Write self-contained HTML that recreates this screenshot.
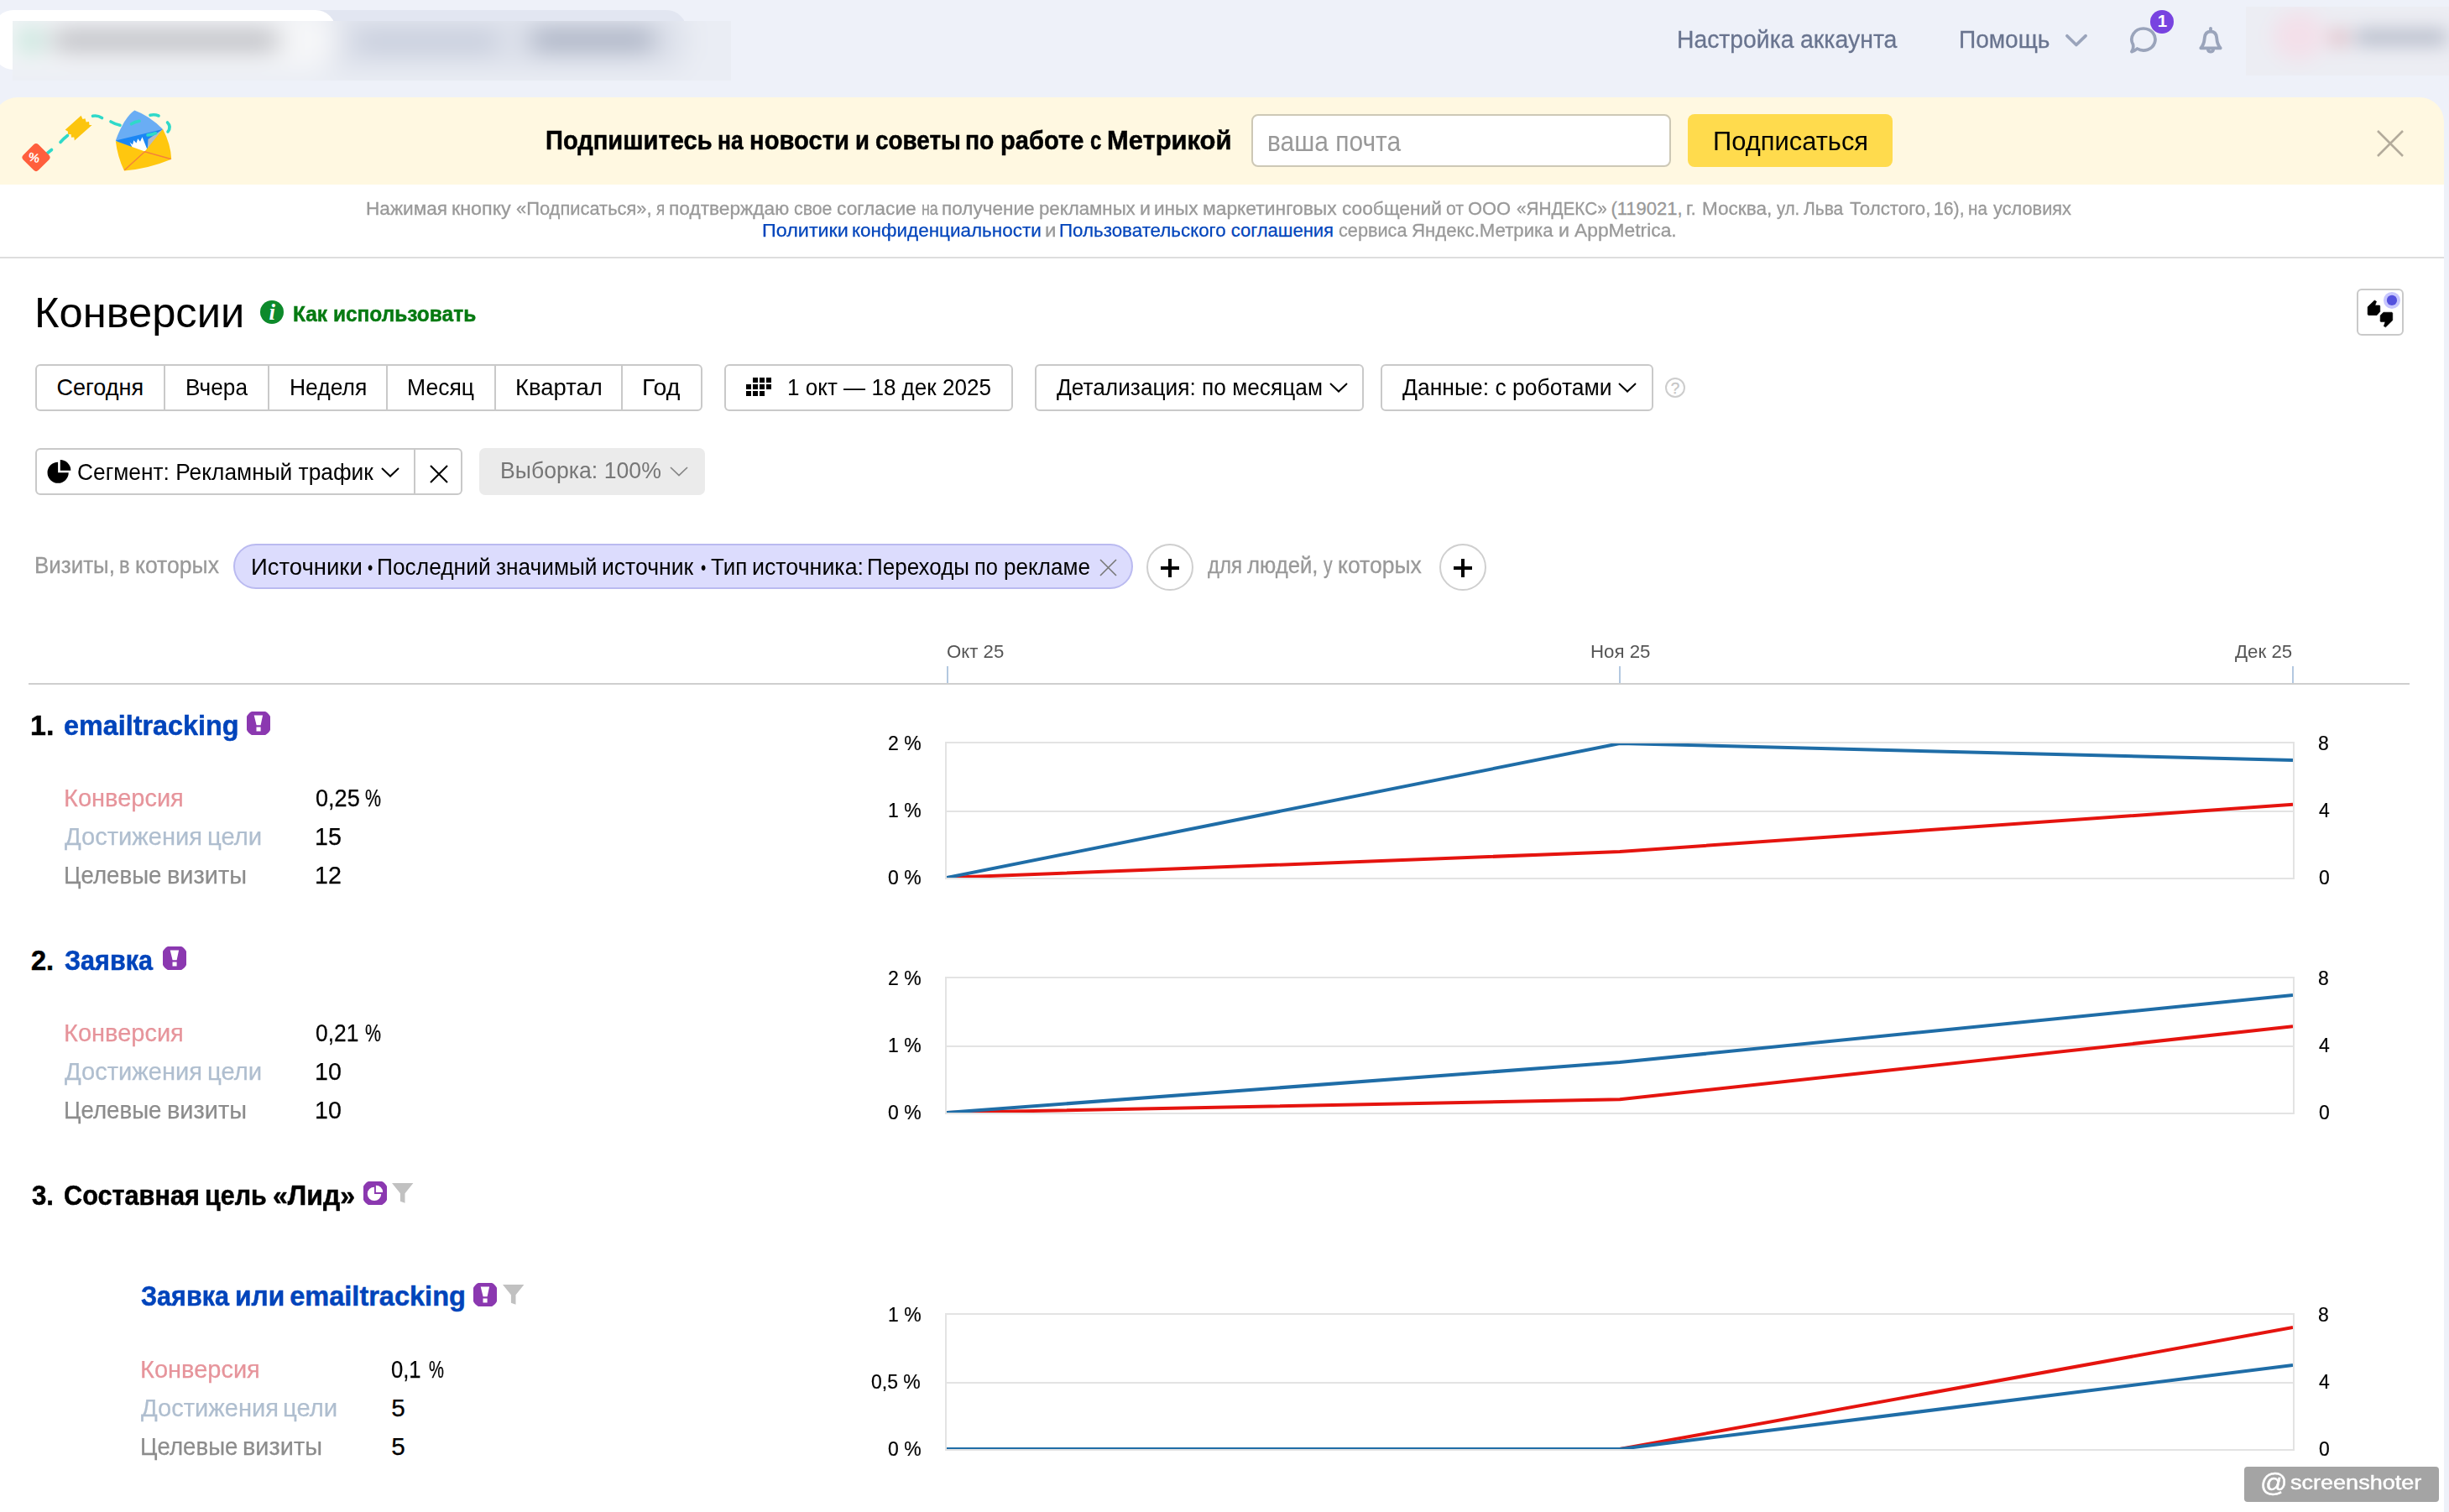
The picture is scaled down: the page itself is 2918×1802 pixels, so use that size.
<!DOCTYPE html>
<html lang="ru">
<head>
<meta charset="utf-8">
<title>Конверсии — Яндекс Метрика</title>
<style>
*{box-sizing:border-box;margin:0;padding:0}
html,body{width:2918px;height:1802px;overflow:hidden}
@media (max-width:2000px){html{zoom:.5}}
body{position:relative;background:#eef1f9;font-family:"Liberation Sans",sans-serif;color:#000}
.abs{position:absolute}
svg{position:absolute;overflow:visible}
.t{position:absolute;white-space:nowrap;line-height:1;transform-origin:0 0}
/* header */
#tab1{left:-8px;top:12px;width:408px;height:71px;background:#fff;border-radius:24px}
#tab2{left:376px;top:12px;width:442px;height:71px;background:#e2e6f1;border-radius:0 24px 24px 0;z-index:-1}
.blob{position:absolute;border-radius:14px;filter:blur(8px)}
.hdr{color:#69748f;-webkit-text-stroke:.3px #69748f}
/* banner */
#banner{left:-8px;top:116px;width:2920px;height:104px;background:#fff8e1;border-radius:29px 29px 0 0}
#page{left:0;top:220px;width:2912px;height:1582px;background:#fff}
#binput{left:1491px;top:136px;width:500px;height:63px;background:#fff;border:2px solid #cdc8b6;border-radius:8px}
#bbtn{left:2011px;top:136px;width:244px;height:63px;background:#ffdb4d;border-radius:8px}
.btn{position:absolute;background:#fff;border:2px solid #c9c9c9;border-radius:6px}
.vd{position:absolute;width:2px;background:#c9c9c9}
.g{color:#999;-webkit-text-stroke:.3px #999}
.hr{position:absolute;height:2px}
.lnk{color:#0044bb}
.dot{font-size:20px;margin:0 8.5px}
.hv{-webkit-text-stroke:.5px currentColor}
.rv{-webkit-text-stroke:.25px currentColor}
.c1{color:#e6949b}.c2{color:#afbecf}.c3{color:#8c8c8c}
.axl{color:#555}
.ax{-webkit-text-stroke:.2px #000}
.plus{position:absolute;width:56px;height:56px;border:2px solid #cfcfcf;border-radius:50%;background:#fff}
.plus:before,.plus:after{content:"";position:absolute;background:#000}
.plus:before{left:15px;top:25px;width:22px;height:4px}
.plus:after{left:24px;top:16px;width:4px;height:22px}
</style>
</head>
<body>
<!-- header tabs (blurred in source) -->
<div id="tab2" class="abs"></div>
<div id="tab1" class="abs"></div>
<div class="abs" style="left:15px;top:25px;width:856px;height:71px;overflow:hidden">
 <div class="abs" style="left:-60px;top:-60px;width:976px;height:191px;background:#eaedf4;filter:blur(15px)">
  <div class="abs" style="left:421px;top:47px;width:442px;height:71px;background:#dde1eb;border-radius:0 24px 24px 0"></div>
  <div class="abs" style="left:37px;top:47px;width:408px;height:71px;background:#f5f6f8;border-radius:24px"></div>
  <div class="abs" style="left:68px;top:71px;width:26px;height:24px;border-radius:6px;background:#a9dccb"></div>
  <div class="abs" style="left:108px;top:74px;width:268px;height:18px;border-radius:4px;background:#a3a4ab"></div>
  <div class="abs" style="left:470px;top:78px;width:168px;height:13px;border-radius:4px;background:#b4bccf"></div>
  <div class="abs" style="left:678px;top:74px;width:146px;height:17px;border-radius:4px;background:#9099ae"></div>
 </div>
</div>
<div class="abs" style="left:2676px;top:8px;width:242px;height:82px;overflow:hidden">
 <div class="abs" style="left:-60px;top:-60px;width:362px;height:202px;background:#ecedf3;filter:blur(11px)">
  <div class="abs" style="left:92px;top:66px;width:62px;height:58px;border-radius:50%;background:#f3e0ea"></div>
  <div class="abs" style="left:160px;top:86px;width:22px;height:22px;border-radius:50%;background:#dfb9c2"></div>
  <div class="abs" style="left:190px;top:88px;width:110px;height:17px;border-radius:4px;background:#b0b6c5"></div>
 </div>
</div>

<!-- header icons -->
<svg style="left:2440px;top:0" width="240" height="100" viewBox="2440 0 240 100">
<g fill="none" stroke="#9aa4bb" stroke-linecap="round" stroke-linejoin="round">
<path d="M2462.900 42.700 L2473.900 53.500 L2485.100 42.700" stroke-width="3.700"/>
<path d="M2554 34 a14 13 0 1 1 -7.500 24 q-2.800 2.600 -6.600 3.600 q2.600 -3.600 1.600 -8.600 a14 13 0 0 1 12.500 -19 z" stroke-width="3.700"/>
<path d="M2634 33.800 V36.500" stroke-width="3.800"/>
<path d="M2622.300 57.300 C2626.300 53 2626.500 48.500 2626.800 45 C2627.200 39.800 2630 37.600 2634 37.600 C2638 37.600 2640.800 39.800 2641.200 45 C2641.500 48.500 2641.700 53 2645.700 57.300 Z" stroke-width="3.800"/>
<path d="M2630.800 59.500 a3.400 3.200 0 0 0 6.400 0" stroke-width="3.600"/>
</g>
<circle cx="2576" cy="26" r="14" fill="#7843e0"/>
</svg>

<!-- banner -->
<div id="banner" class="abs"></div>
<div id="page" class="abs"></div>
<div id="binput" class="abs"></div>
<div id="bbtn" class="abs"></div>
<svg style="left:2830px;top:153px" width="36" height="36" viewBox="0 0 36 36"><path d="M3 3 L33 33 M33 3 L3 33" stroke="#b3ab9b" stroke-width="2.6" fill="none"/></svg>
<svg style="left:0;top:116px" width="260" height="104" viewBox="0 116 260 104">
<!-- dashed trail -->
<g fill="none" stroke="#2fd9c9" stroke-width="3.6" stroke-linecap="round">
<path d="M56.500 182.500 L61.500 178.500"/><path d="M72 169.500 Q76 165 80.500 161.500"/>
<path d="M110.500 138.300 Q116 137 121.500 140.500"/><path d="M132 145 Q137 148 143 149.300"/>
<path d="M179 137.300 Q184 136 189 138"/><path d="M199.500 146 Q204.500 151 200 157"/>
</g>
<!-- ticket -->
<path d="M77.600 154.700 L96.600 137.800 L98.500 142 L101.500 141.300 L102.600 145.500 L106 145 L106.500 149 L109.600 149 L88.800 167.400 L88.300 163.500 L85 163.800 L84.600 160 L81.200 160.300 L80.800 156.500 Z" fill="#fcc50e"/>
<!-- tag -->
<rect x="30.200" y="174.800" width="25.600" height="25.600" rx="4" transform="rotate(45 43 187.600)" fill="#ff5f3d"/>
<!-- envelope -->
<path d="M137.800 167.400 Q148 140 160.300 131.600 Q178 138 194 154.100 L172.500 180.600 Z" fill="#6aadf4"/>
<path d="M137.800 167.400 L194 154.100 L175.600 180 L150 176 Z" fill="#1b86f4"/>
<path d="M194 154.100 L176.500 166 L175.600 180 Z" fill="#b5bbc6"/>
<path d="M154.600 169.400 L158 172.500 L159.300 167.300 L162.500 170.600 L164.200 165.300 L167 168.800 L169.500 163.300 L175.600 178.600 L172 181.500 L158.500 177.500 Z" fill="#fff"/>
<path d="M137.800 168 L172.500 180.600 L194 153.800 Q203.500 172 204.200 189.800 Q176 201.500 148 203.500 Q140 187 137.800 168 Z" fill="#ffc70f"/>
<path d="M148.300 202.800 L172.500 180.800 L203.500 189.500" fill="none" stroke="#f4813b" stroke-width="1.300"/>
<g fill="none" stroke="#2fd9c9" stroke-width="3.600" stroke-linecap="round"><path d="M156.500 147.800 Q161 145 166 144.300"/><path d="M176 161 Q181 160.500 185.500 158.800"/></g>
</svg>
<div class="t" style="left:33.500px;top:179.500px;font-size:15px;font-weight:bold;color:#fff;transform:rotate(12deg);transform-origin:50% 50%">%</div>

<div class="hr" style="left:0;top:306px;width:2912px;background:#dedede"></div>

<!-- title row -->
<div class="abs" style="left:310px;top:358px;width:28px;height:28px;border-radius:50%;background:#0d8a2b"></div>
<div class="t" style="left:320.500px;top:358.800px;font-family:'Liberation Serif',serif;font-style:italic;font-weight:bold;font-size:27px;color:#fff">i</div>
<div class="btn" style="left:2808px;top:344px;width:56px;height:56px;border-radius:6px"></div>
<svg style="left:2796px;top:332px" width="80" height="80" viewBox="0 0 80 80">
<circle cx="53.970" cy="25.900" r="10" fill="#c7c6fd"/><circle cx="53.970" cy="25.900" r="6.100" fill="#5451de"/>
<path d="M25.130 33.860 L33.230 26.030 L35.560 27.250 L33.860 32.010 L39.420 32.010 L39.790 33.070 L39.790 39.420 L35.980 43.650 L25.930 43.650 L25.130 42.590 Z" fill="#000" stroke="#000" stroke-width=".6" stroke-linejoin="round"/>
<path d="M40.210 43.920 L43.920 40.210 L53.970 40.210 L54.760 41.270 L54.760 49.740 L46.560 57.830 L44.340 56.720 L46.030 51.590 L40.740 51.590 L40.110 50.790 Z" fill="#000" stroke="#000" stroke-width=".6" stroke-linejoin="round"/>
</svg>

<!-- period buttons -->
<div class="btn" style="left:42px;top:434px;width:795px;height:56px"></div>
<div class="vd" style="left:195px;top:434px;height:56px"></div>
<div class="vd" style="left:319px;top:434px;height:56px"></div>
<div class="vd" style="left:460px;top:434px;height:56px"></div>
<div class="vd" style="left:589px;top:434px;height:56px"></div>
<div class="vd" style="left:740px;top:434px;height:56px"></div>
<div class="btn" style="left:863px;top:434px;width:344px;height:56px"></div>
<div class="btn" style="left:1233px;top:434px;width:392px;height:56px"></div>
<div class="btn" style="left:1645px;top:434px;width:325px;height:56px"></div>
<!-- calendar icon -->
<svg style="left:889px;top:450px" width="31" height="23" viewBox="0 0 31 23" fill="#000"><rect x="8" y="0" width="6" height="6"/><rect x="16" y="0" width="6" height="6"/><rect x="24" y="0" width="6" height="6"/><rect x="0" y="8" width="6" height="6"/><rect x="8" y="8" width="6" height="6"/><rect x="16" y="8" width="6" height="6"/><rect x="24" y="8" width="6" height="6"/><rect x="0" y="16" width="6" height="6"/><rect x="8" y="16" width="6" height="6"/><rect x="16" y="16" width="6" height="6"/></svg>
<svg style="left:1582.500px;top:453.700px" width="24" height="16" viewBox="0 0 24 16"><path d="M2 3 L12 12.500 L22 3" fill="none" stroke="#000" stroke-width="2"/></svg>
<svg style="left:1926.800px;top:453.700px" width="24" height="16" viewBox="0 0 24 16"><path d="M2 3 L12 12.500 L22 3" fill="none" stroke="#000" stroke-width="2"/></svg>
<div class="abs" style="left:1984px;top:449.800px;width:24px;height:24px;border-radius:50%;border:2px solid #cdcdcd"></div>
<div class="t" style="left:1990.700px;top:452.600px;font-size:19px;color:#c6c6c6;-webkit-text-stroke:.3px #c6c6c6">?</div>

<!-- segment row -->
<div class="btn" style="left:42px;top:534px;width:509px;height:56px"></div>
<div class="vd" style="left:493px;top:534px;height:56px"></div>
<svg style="left:55.600px;top:546.700px" width="29.400" height="29.400" viewBox="0 0 28 28"><path d="M12.500 3.500 A12 12 0 1 0 24.500 15.500 H12.500 Z" fill="#000"/><path d="M15 1 A12 12 0 0 1 27 13 H15 Z" fill="#000"/></svg>
<svg style="left:453px;top:555px" width="24" height="16" viewBox="0 0 24 16"><path d="M2 3 L12 12.500 L22 3" fill="none" stroke="#000" stroke-width="2"/></svg>
<svg style="left:511px;top:553px" width="24" height="24" viewBox="0 0 24 24"><path d="M2 2 L22 22 M22 2 L2 22" stroke="#000" stroke-width="2.100" fill="none"/></svg>
<div class="abs" style="left:571px;top:534px;width:269px;height:56px;background:#ebebeb;border-radius:7px"></div>
<svg style="left:797px;top:554px" width="24" height="16" viewBox="0 0 24 16"><path d="M2 3 L12 12.500 L22 3" fill="none" stroke="#858585" stroke-width="1.700"/></svg>

<!-- filter row -->
<div class="abs" style="left:278px;top:648px;width:1072px;height:54px;border-radius:27px;background:#dcdcfd;border:2px solid #babaf0"></div>
<svg style="left:1310px;top:666px" width="21" height="21" viewBox="0 0 21 21"><path d="M1 1 L20 20 M20 1 L1 20" stroke="#777" stroke-width="1.600" fill="none"/></svg>
<div class="plus" style="left:1365.700px;top:648px"></div>
<div class="plus" style="left:1714.700px;top:648px"></div>

<!-- time axis -->
<div class="hr" style="left:34px;top:814px;width:2837px;background:#cfcfcf"></div>
<div class="abs" style="left:1128px;top:794px;width:2px;height:20px;background:#b3c8e0"></div>
<div class="abs" style="left:1929px;top:794px;width:2px;height:20px;background:#b3c8e0"></div>
<div class="abs" style="left:2731px;top:794px;width:2px;height:20px;background:#b3c8e0"></div>

<svg style="left:294px;top:848px" width="28" height="28" viewBox="0 0 28 28"><path d="M6.200 0 H21.800 C23.800 .400 27.600 4.200 28 6.200 V21.800 C27.600 23.800 23.800 27.600 21.800 28 H6.200 C4.200 27.600 .400 23.800 0 21.800 V6.200 C.400 4.200 4.200 .400 6.200 0 Z" fill="#8b38b0"/><path d="M8.700 4.500 H19.100 L16.600 16.200 H11.600 Z M11.500 18.400 h5.100 v5.100 h-5.100 Z" fill="#fff"/></svg>
<svg style="left:194px;top:1128.3px" width="28" height="28" viewBox="0 0 28 28"><path d="M6.200 0 H21.800 C23.800 .400 27.600 4.200 28 6.200 V21.800 C27.600 23.800 23.800 27.600 21.800 28 H6.200 C4.200 27.600 .400 23.800 0 21.800 V6.200 C.400 4.200 4.200 .400 6.200 0 Z" fill="#8b38b0"/><path d="M8.700 4.500 H19.100 L16.600 16.200 H11.600 Z M11.500 18.400 h5.100 v5.100 h-5.100 Z" fill="#fff"/></svg>
<svg style="left:433px;top:1408px" width="28" height="28" viewBox="0 0 28 28"><path d="M6.200 0 H21.800 C23.800 .400 27.600 4.200 28 6.200 V21.800 C27.600 23.800 23.800 27.600 21.800 28 H6.200 C4.200 27.600 .400 23.800 0 21.800 V6.200 C.400 4.200 4.200 .400 6.200 0 Z" fill="#8b38b0"/><path d="M13 6.700 A8.200 8.200 0 1 0 21.200 14.900 H13 Z" fill="#fff"/><path d="M14.900 4.700 A8.200 8.200 0 0 1 23.100 12.900 H14.900 Z" fill="#fff"/></svg>
<svg style="left:467.2px;top:1410px" width="26" height="25" viewBox="0 0 26 25"><path d="M0 0 H25.400 L15.500 12.200 V23.800 L9.900 21.800 V12.200 Z" fill="#c1c1c1"/></svg>
<svg style="left:564.2px;top:1529px" width="28" height="28" viewBox="0 0 28 28"><path d="M6.200 0 H21.800 C23.800 .400 27.600 4.200 28 6.200 V21.800 C27.600 23.800 23.800 27.600 21.800 28 H6.200 C4.200 27.600 .400 23.800 0 21.800 V6.200 C.400 4.200 4.200 .400 6.200 0 Z" fill="#8b38b0"/><path d="M8.700 4.500 H19.100 L16.600 16.200 H11.600 Z M11.500 18.400 h5.100 v5.100 h-5.100 Z" fill="#fff"/></svg>
<svg style="left:598.5px;top:1530.8px" width="26" height="25" viewBox="0 0 26 25"><path d="M0 0 H25.400 L15.500 12.200 V23.800 L9.900 21.800 V12.200 Z" fill="#c1c1c1"/></svg>

<!-- charts -->
<svg style="left:0;top:0" width="2918" height="1802" viewBox="0 0 2918 1802">
<defs>
<clipPath id="cp1"><rect x="1128" y="886" width="1604" height="160"/></clipPath>
<clipPath id="cp2"><rect x="1128" y="1166" width="1604" height="160"/></clipPath>
<clipPath id="cp3"><rect x="1128" y="1567" width="1604" height="160"/></clipPath>
</defs>
<g fill="none" stroke="#e3e3e3" stroke-width="2">
<rect x="1127" y="885" width="1606" height="162"/><path d="M1128 967H2732"/>
<rect x="1127" y="1165" width="1606" height="162"/><path d="M1128 1247H2732"/>
<rect x="1127" y="1566" width="1606" height="162"/><path d="M1128 1648H2732"/>
</g>
<g fill="none" stroke-width="4" stroke-linejoin="round">
<g clip-path="url(#cp1)"><path d="M1128 1046 L1930 1015 L2732 958.800" stroke="#e5140f"/><path d="M1128 1046 L1930 886 L2732 906" stroke="#1f6da7"/></g>
<g clip-path="url(#cp2)"><path d="M1128 1326 L1930 1310.300 L2732 1223.300" stroke="#e5140f"/><path d="M1128 1326 L1930 1266 L2732 1186" stroke="#1f6da7"/></g>
<g clip-path="url(#cp3)"><path d="M1128 1727 L1930 1727 L2732 1582" stroke="#e5140f"/><path d="M1128 1727 L1930 1727 L2732 1627" stroke="#1f6da7"/></g>
</g>
</svg>

<!-- watermark -->
<div class="abs" style="left:2674px;top:1748px;width:232px;height:42px;background:#a4a4a4;border-radius:4px"></div>


<div class="t hdr" style="left:1997.6px;top:31.7px;font-size:30px;transform:scaleX(0.9438);">Настройка</div>
<div class="t hdr" style="left:2145.1px;top:31.7px;font-size:30px;transform:scaleX(0.9494);">аккаунта</div>
<div class="t hdr" style="left:2333.7px;top:31.7px;font-size:30px;transform:scaleX(0.9361);">Помощь</div>
<div class="t" style="left:2570.8px;top:15.4px;font-size:20.5px;font-weight:bold;color:#fff">1</div>
<div class="t hv" style="left:649.5px;top:151.6px;font-size:31.5px;transform:scaleX(0.9240);font-weight:bold;">Подпишитесь</div>
<div class="t hv" style="left:855.1px;top:151.6px;font-size:31.5px;transform:scaleX(0.8384);font-weight:bold;">на</div>
<div class="t hv" style="left:893.4px;top:151.6px;font-size:31.5px;transform:scaleX(0.9270);font-weight:bold;">новости</div>
<div class="t hv" style="left:1018.6px;top:151.6px;font-size:31.5px;transform:scaleX(0.8728);font-weight:bold;">и</div>
<div class="t hv" style="left:1042.5px;top:151.6px;font-size:31.5px;transform:scaleX(0.8853);font-weight:bold;">советы</div>
<div class="t hv" style="left:1150.1px;top:151.6px;font-size:31.5px;transform:scaleX(0.8984);font-weight:bold;">по</div>
<div class="t hv" style="left:1191.6px;top:151.6px;font-size:31.5px;transform:scaleX(0.9235);font-weight:bold;">работе</div>
<div class="t hv" style="left:1298.8px;top:151.6px;font-size:31.5px;transform:scaleX(0.7603);font-weight:bold;">с</div>
<div class="t hv" style="left:1318.9px;top:151.6px;font-size:31.5px;transform:scaleX(0.9813);font-weight:bold;">Метрикой</div>
<div class="t" style="left:1509.9px;top:151.6px;font-size:33px;transform:scaleX(0.9072);color:#999">ваша почта</div>
<div class="t" style="left:2040.6px;top:153.3px;font-size:31px;transform:scaleX(0.9965);">Подписаться</div>
<div class="t g" style="left:436.1px;top:238.2px;font-size:22px;transform:scaleX(1.0284);">Нажимая</div>
<div class="t g" style="left:537.5px;top:238.2px;font-size:22px;transform:scaleX(1.0593);">кнопку</div>
<div class="t g" style="left:615.2px;top:238.2px;font-size:22px;transform:scaleX(0.9953);">«Подписаться»,</div>
<div class="t g" style="left:782.1px;top:238.2px;font-size:22px;transform:scaleX(0.8564);">я</div>
<div class="t g" style="left:796.9px;top:238.2px;font-size:22px;transform:scaleX(1.0316);">подтверждаю</div>
<div class="t g" style="left:945.9px;top:238.2px;font-size:22px;transform:scaleX(0.9667);">свое</div>
<div class="t g" style="left:997.4px;top:238.2px;font-size:22px;transform:scaleX(1.0343);">согласие</div>
<div class="t g" style="left:1097.5px;top:238.2px;font-size:22px;transform:scaleX(0.8118);">на</div>
<div class="t g" style="left:1121.9px;top:238.2px;font-size:22px;transform:scaleX(1.0252);">получение</div>
<div class="t g" style="left:1237.6px;top:238.2px;font-size:22px;transform:scaleX(1.0108);">рекламных</div>
<div class="t g" style="left:1357.7px;top:238.2px;font-size:22px;transform:scaleX(1.0494);">и</div>
<div class="t g" style="left:1374.8px;top:238.2px;font-size:22px;transform:scaleX(1.0272);">иных</div>
<div class="t g" style="left:1432.8px;top:238.2px;font-size:22px;transform:scaleX(1.0383);">маркетинговых</div>
<div class="t g" style="left:1598.8px;top:238.2px;font-size:22px;transform:scaleX(1.0323);">сообщений</div>
<div class="t g" style="left:1722.7px;top:238.2px;font-size:22px;transform:scaleX(0.9664);">от</div>
<div class="t g" style="left:1749.1px;top:238.2px;font-size:22px;transform:scaleX(0.9959);">ООО</div>
<div class="t g" style="left:1806.5px;top:238.2px;font-size:22px;transform:scaleX(0.9428);">«ЯНДЕКС»</div>
<div class="t g" style="left:1919.4px;top:238.2px;font-size:22px;">(119021,</div>
<div class="t g" style="left:2008.8px;top:238.2px;font-size:22px;transform:scaleX(1.0494);">г.</div>
<div class="t g" style="left:2028.3px;top:238.2px;font-size:22px;transform:scaleX(1.0254);">Москва,</div>
<div class="t g" style="left:2116.8px;top:238.2px;font-size:22px;transform:scaleX(0.9248);">ул.</div>
<div class="t g" style="left:2149.4px;top:238.2px;font-size:22px;transform:scaleX(0.9539);">Льва</div>
<div class="t g" style="left:2203.8px;top:238.2px;font-size:22px;transform:scaleX(1.0114);">Толстого,</div>
<div class="t g" style="left:2304.4px;top:238.2px;font-size:22px;transform:scaleX(0.9643);">16),</div>
<div class="t g" style="left:2345.4px;top:238.2px;font-size:22px;transform:scaleX(0.9367);">на</div>
<div class="t g" style="left:2375.3px;top:238.2px;font-size:22px;transform:scaleX(0.9898);">условиях</div>
<div class="t lnk rv" style="left:908.1px;top:263.8px;font-size:22px;transform:scaleX(1.0606);">Политики</div>
<div class="t lnk rv" style="left:1015.0px;top:263.8px;font-size:22px;transform:scaleX(1.0217);">конфиденциальности</div>
<div class="t g" style="left:1244.7px;top:263.8px;font-size:22px;transform:scaleX(1.1000);">и</div>
<div class="t lnk rv" style="left:1261.9px;top:263.8px;font-size:22px;transform:scaleX(1.0155);">Пользовательского</div>
<div class="t lnk rv" style="left:1466.7px;top:263.8px;font-size:22px;">соглашения</div>
<div class="t g" style="left:1594.5px;top:263.8px;font-size:22px;transform:scaleX(0.9853);">сервиса</div>
<div class="t g" style="left:1682.1px;top:263.8px;font-size:22px;transform:scaleX(1.0092);">Яндекс.Метрика</div>
<div class="t g" style="left:1856.8px;top:263.8px;font-size:22px;transform:scaleX(1.0600);">и</div>
<div class="t g" style="left:1876.1px;top:263.8px;font-size:22px;transform:scaleX(1.0364);">AppMetrica.</div>
<div class="t" style="left:40.5px;top:348.2px;font-size:50.5px;transform:scaleX(1.0030);">Конверсии</div>
<div class="t hv" style="left:348.6px;top:360.8px;font-size:26.5px;transform:scaleX(0.9238);font-weight:bold;color:#067a12">Как использовать</div>
<div class="t bt" style="left:67.5px;top:449.1px;font-size:27.04px;">Сегодня</div>
<div class="t bt" style="left:220.5px;top:449.1px;font-size:27.04px;transform:scaleX(0.9697);">Вчера</div>
<div class="t bt" style="left:344.8px;top:449.1px;font-size:27.04px;transform:scaleX(0.9797);">Неделя</div>
<div class="t bt" style="left:484.7px;top:449.1px;font-size:27.04px;transform:scaleX(0.9822);">Месяц</div>
<div class="t bt" style="left:613.7px;top:449.1px;font-size:27.04px;transform:scaleX(1.0164);">Квартал</div>
<div class="t bt" style="left:765.1px;top:449.1px;font-size:27.04px;transform:scaleX(1.0541);">Год</div>
<div class="t bt" style="left:938.3px;top:449.1px;font-size:27.04px;transform:scaleX(0.9640);">1 окт — 18 дек 2025</div>
<div class="t bt" style="left:1259.3px;top:449.1px;font-size:27.04px;transform:scaleX(0.9718);">Детализация: по месяцам</div>
<div class="t bt" style="left:1670.9px;top:449.1px;font-size:27.04px;transform:scaleX(0.9807);">Данные: с роботами</div>
<div class="t bt" style="left:91.6px;top:549.8px;font-size:27.04px;transform:scaleX(0.9737);">Сегмент: Рекламный трафик</div>
<div class="t bt" style="left:596.0px;top:548.3px;font-size:27.04px;transform:scaleX(0.9856);color:#767676">Выборка: 100%</div>
<div class="t g" style="left:40.6px;top:660.3px;font-size:27.5px;transform:scaleX(0.9428);">Визиты,</div>
<div class="t g" style="left:142.0px;top:660.3px;font-size:27.5px;transform:scaleX(0.8635);">в</div>
<div class="t g" style="left:161.1px;top:660.3px;font-size:27.5px;transform:scaleX(0.9662);">которых</div>
<div class="t" style="left:299.4px;top:662.4px;font-size:27.3px;transform:scaleX(1.0075);">Источники</div>
<div class="t" style="left:448.7px;top:662.4px;font-size:27.3px;transform:scaleX(0.9656);">Последний</div>
<div class="t" style="left:591.0px;top:662.4px;font-size:27.3px;transform:scaleX(0.9617);">значимый</div>
<div class="t" style="left:717.2px;top:662.4px;font-size:27.3px;transform:scaleX(0.9731);">источник</div>
<div class="t" style="left:847.4px;top:662.4px;font-size:27.3px;transform:scaleX(0.9488);">Тип</div>
<div class="t" style="left:895.8px;top:662.4px;font-size:27.3px;transform:scaleX(0.9815);">источника:</div>
<div class="t" style="left:1033.3px;top:662.4px;font-size:27.3px;transform:scaleX(0.9531);">Переходы</div>
<div class="t" style="left:1160.8px;top:662.4px;font-size:27.3px;transform:scaleX(0.9340);">по</div>
<div class="t" style="left:1195.5px;top:662.4px;font-size:27.3px;transform:scaleX(0.9575);">рекламе</div>
<div class="t" style="left:438.1px;top:665.8px;font-size:23px;transform:scaleX(0.7750);">•</div>
<div class="t" style="left:834.9px;top:665.8px;font-size:23px;transform:scaleX(0.7750);">•</div>
<div class="t g" style="left:1438.8px;top:660.3px;font-size:27.5px;transform:scaleX(0.8743);">для</div>
<div class="t g" style="left:1486.2px;top:660.3px;font-size:27.5px;transform:scaleX(0.9342);">людей,</div>
<div class="t g" style="left:1577.1px;top:660.3px;font-size:27.5px;transform:scaleX(0.7708);">у</div>
<div class="t g" style="left:1594.4px;top:660.3px;font-size:27.5px;transform:scaleX(0.9652);">которых</div>
<div class="t axl" style="left:1127.6px;top:764.6px;font-size:22.88px;transform:scaleX(0.9707);">Окт 25</div>
<div class="t axl" style="left:1894.5px;top:764.6px;font-size:22.88px;transform:scaleX(0.9734);">Ноя 25</div>
<div class="t axl" style="left:2663.4px;top:764.6px;font-size:22.88px;transform:scaleX(0.9740);">Дек 25</div>
<div class="t hv" style="left:35.9px;top:848.5px;font-size:32.5px;transform:scaleX(1.0444);font-weight:bold;">1.</div>
<div class="t lnk hv" style="left:76.2px;top:848.5px;font-size:32.5px;transform:scaleX(0.9957);font-weight:bold;">emailtracking</div>
<div class="t c1 rv" style="left:76.0px;top:936.2px;font-size:29.7px;transform:scaleX(0.9770);">Конверсия</div>
<div class="t rv" style="left:376.4px;top:936.2px;font-size:29.7px;transform:scaleX(0.9117);">0,25</div>
<div class="t rv" style="left:435.4px;top:936.2px;font-size:29.7px;transform:scaleX(0.7200);">%</div>
<div class="t c2 rv" style="left:77.2px;top:982.0px;font-size:29.7px;transform:scaleX(0.9793);">Достижения</div>
<div class="t c2 rv" style="left:246.7px;top:982.0px;font-size:29.7px;transform:scaleX(0.9869);">цели</div>
<div class="t rv" style="left:375.4px;top:982.0px;font-size:29.7px;transform:scaleX(0.9636);">15</div>
<div class="t c3 rv" style="left:76.1px;top:1028.0px;font-size:29.7px;transform:scaleX(0.9319);">Целевые</div>
<div class="t c3 rv" style="left:198.8px;top:1028.0px;font-size:29.7px;transform:scaleX(0.9740);">визиты</div>
<div class="t rv" style="left:375.4px;top:1028.0px;font-size:29.7px;transform:scaleX(0.9636);">12</div>
<div class="t hv" style="left:37.0px;top:1128.5px;font-size:32.5px;font-weight:bold;">2.</div>
<div class="t lnk hv" style="left:77.2px;top:1128.5px;font-size:32.5px;transform:scaleX(0.9392);font-weight:bold;">Заявка</div>
<div class="t c1 rv" style="left:76.0px;top:1216.0px;font-size:29.7px;transform:scaleX(0.9770);">Конверсия</div>
<div class="t rv" style="left:376.4px;top:1216.0px;font-size:29.7px;transform:scaleX(0.8886);">0,21</div>
<div class="t rv" style="left:435.4px;top:1216.0px;font-size:29.7px;transform:scaleX(0.7200);">%</div>
<div class="t c2 rv" style="left:77.2px;top:1262.2px;font-size:29.7px;transform:scaleX(0.9793);">Достижения</div>
<div class="t c2 rv" style="left:246.7px;top:1262.2px;font-size:29.7px;transform:scaleX(0.9869);">цели</div>
<div class="t rv" style="left:375.4px;top:1262.2px;font-size:29.7px;transform:scaleX(0.9636);">10</div>
<div class="t c3 rv" style="left:76.1px;top:1308.1px;font-size:29.7px;transform:scaleX(0.9319);">Целевые</div>
<div class="t c3 rv" style="left:198.8px;top:1308.1px;font-size:29.7px;transform:scaleX(0.9740);">визиты</div>
<div class="t rv" style="left:375.4px;top:1308.1px;font-size:29.7px;transform:scaleX(0.9636);">10</div>
<div class="t hv" style="left:38.0px;top:1408.5px;font-size:32.5px;transform:scaleX(0.9611);font-weight:bold;">3.</div>
<div class="t hv" style="left:76.3px;top:1408.5px;font-size:32.5px;transform:scaleX(0.9433);font-weight:bold;">Составная</div>
<div class="t hv" style="left:243.8px;top:1408.5px;font-size:32.5px;transform:scaleX(0.9363);font-weight:bold;">цель</div>
<div class="t hv" style="left:325.0px;top:1408.5px;font-size:32.5px;transform:scaleX(0.9847);font-weight:bold;">«Лид»</div>
<div class="t lnk hv" style="left:167.7px;top:1529.3px;font-size:32.5px;transform:scaleX(0.9393);font-weight:bold;">Заявка</div>
<div class="t lnk hv" style="left:279.6px;top:1529.3px;font-size:32.5px;transform:scaleX(0.9762);font-weight:bold;">или</div>
<div class="t lnk hv" style="left:345.3px;top:1529.3px;font-size:32.5px;font-weight:bold;">emailtracking</div>
<div class="t c1 rv" style="left:166.5px;top:1617.2px;font-size:29.7px;transform:scaleX(0.9770);">Конверсия</div>
<div class="t rv" style="left:466.3px;top:1617.2px;font-size:29.7px;transform:scaleX(0.8627);">0,1</div>
<div class="t rv" style="left:510.6px;top:1617.2px;font-size:29.7px;transform:scaleX(0.6800);">%</div>
<div class="t c2 rv" style="left:167.7px;top:1663.1px;font-size:29.7px;transform:scaleX(0.9793);">Достижения</div>
<div class="t c2 rv" style="left:337.2px;top:1663.1px;font-size:29.7px;transform:scaleX(0.9869);">цели</div>
<div class="t rv" style="left:466.2px;top:1663.1px;font-size:29.7px;">5</div>
<div class="t c3 rv" style="left:166.6px;top:1709.3px;font-size:29.7px;transform:scaleX(0.9319);">Целевые</div>
<div class="t c3 rv" style="left:289.3px;top:1709.3px;font-size:29.7px;transform:scaleX(0.9740);">визиты</div>
<div class="t rv" style="left:466.2px;top:1709.3px;font-size:29.7px;">5</div>
<div class="t ax" style="left:1057.5px;top:874.2px;font-size:23.92px;transform:scaleX(0.9615);">2 %</div>
<div class="t ax" style="left:2761.8px;top:874.2px;font-size:23.92px;transform:scaleX(0.9615);">8</div>
<div class="t ax" style="left:1057.5px;top:954.2px;font-size:23.92px;transform:scaleX(0.9615);">1 %</div>
<div class="t ax" style="left:2762.8px;top:954.2px;font-size:23.92px;transform:scaleX(0.9615);">4</div>
<div class="t ax" style="left:1057.5px;top:1034.2px;font-size:23.92px;transform:scaleX(0.9615);">0 %</div>
<div class="t ax" style="left:2762.8px;top:1034.2px;font-size:23.92px;transform:scaleX(0.9615);">0</div>
<div class="t ax" style="left:1057.5px;top:1154.2px;font-size:23.92px;transform:scaleX(0.9615);">2 %</div>
<div class="t ax" style="left:2761.8px;top:1154.2px;font-size:23.92px;transform:scaleX(0.9615);">8</div>
<div class="t ax" style="left:1057.5px;top:1234.2px;font-size:23.92px;transform:scaleX(0.9615);">1 %</div>
<div class="t ax" style="left:2762.8px;top:1234.2px;font-size:23.92px;transform:scaleX(0.9615);">4</div>
<div class="t ax" style="left:1057.5px;top:1314.2px;font-size:23.92px;transform:scaleX(0.9615);">0 %</div>
<div class="t ax" style="left:2762.8px;top:1314.2px;font-size:23.92px;transform:scaleX(0.9615);">0</div>
<div class="t ax" style="left:1057.5px;top:1555.2px;font-size:23.92px;transform:scaleX(0.9615);">1 %</div>
<div class="t ax" style="left:2761.8px;top:1555.2px;font-size:23.92px;transform:scaleX(0.9615);">8</div>
<div class="t ax" style="left:1038.4px;top:1635.2px;font-size:23.92px;transform:scaleX(0.9615);">0,5 %</div>
<div class="t ax" style="left:2762.8px;top:1635.2px;font-size:23.92px;transform:scaleX(0.9615);">4</div>
<div class="t ax" style="left:1057.5px;top:1715.2px;font-size:23.92px;transform:scaleX(0.9615);">0 %</div>
<div class="t ax" style="left:2762.8px;top:1715.2px;font-size:23.92px;transform:scaleX(0.9615);">0</div>
<div class="t" style="left:2693.1px;top:1752.3px;font-size:31.2px;transform:scaleX(1.0296);color:#fff;-webkit-text-stroke:.5px #fff">@</div>
<div class="t" style="left:2729.3px;top:1754.9px;font-size:24.5px;transform:scaleX(1.1034);color:#fff;-webkit-text-stroke:.45px #fff">screenshoter</div>
</body>
</html>
